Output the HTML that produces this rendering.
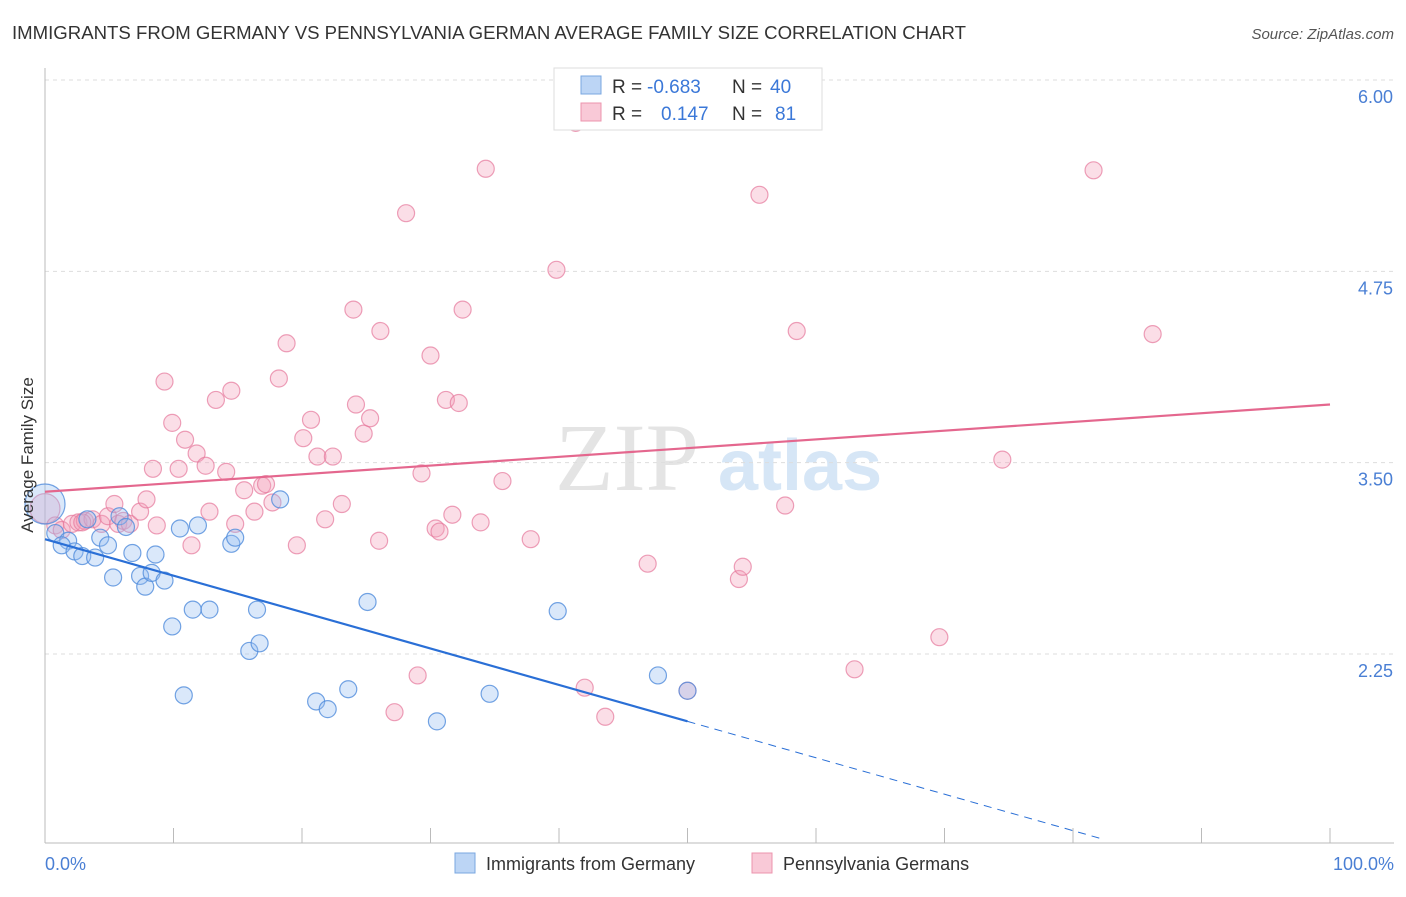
<!DOCTYPE html>
<html><head><meta charset="utf-8"><style>
body{margin:0;background:#fff;font-family:"Liberation Sans",sans-serif}
</style></head><body>
<svg width="1406" height="892" xmlns="http://www.w3.org/2000/svg" font-family="Liberation Sans, sans-serif">
<text x="12" y="39" font-size="18.6" fill="#333">IMMIGRANTS FROM GERMANY VS PENNSYLVANIA GERMAN AVERAGE FAMILY SIZE CORRELATION CHART</text>
<text x="1394" y="39" font-size="15" fill="#555" font-style="italic" text-anchor="end">Source: ZipAtlas.com</text>
<text x="555" y="490" font-size="96" fill="#e4e4e4" font-family="Liberation Serif, serif">ZIP</text>
<text x="718" y="490" font-size="72" fill="#d6e6f6" font-weight="bold">atlas</text>
<g id="grid"></g><g id="axes"></g><g id="pts"></g><g id="lines"></g>
<text x="33" y="455" font-size="17" fill="#333" transform="rotate(-90 33 455)" text-anchor="middle">Average Family Size</text>
<text x="45" y="870" font-size="18" fill="#4a7fd4">0.0%</text>
<text x="1394" y="870" font-size="18" fill="#4a7fd4" text-anchor="end">100.0%</text>
<g font-size="19">
<rect x="554" y="68" width="268" height="62" fill="#fff" stroke="#ddd"/>
<rect x="581" y="76" width="20" height="18" fill="#bcd5f5" stroke="#7aa7e0"/>
<rect x="581" y="103" width="20" height="18" fill="#f9c9d7" stroke="#ec94ae"/>
<text x="612" y="93" fill="#333">R =</text>
<text x="647" y="93" fill="#3b78d8">-0.683</text>
<text x="732" y="93" fill="#333">N =</text>
<text x="770" y="93" fill="#3b78d8">40</text>
<text x="612" y="120" fill="#333">R =</text>
<text x="661" y="120" fill="#3b78d8">0.147</text>
<text x="732" y="120" fill="#333">N =</text>
<text x="775" y="120" fill="#3b78d8">81</text>
</g>
<g>
<rect x="455" y="853" width="20" height="20" fill="#bcd5f5" stroke="#7aa7e0"/>
<text x="486" y="870" font-size="18" fill="#333">Immigrants from Germany</text>
<rect x="752" y="853" width="20" height="20" fill="#f9c9d7" stroke="#ec94ae"/>
<text x="783" y="870" font-size="18" fill="#333">Pennsylvania Germans</text>
</g>
</svg>
<script>
const yTicks=[6.00,4.75,3.50,2.25];
const blueX=[0,0.8,1.8,1.3,2.3,2.9,3.9,4.3,4.9,3.3,5.8,6.3,5.3,6.8,7.4,7.8,8.3,8.6,9.3,9.9,10.5,10.8,11.5,11.9,12.8,14.5,14.8,15.9,16.5,16.7,18.3,21.1,22.0,23.6,25.1,30.5,34.6,39.9,47.7,50.0];
const blueY=[3.23,3.04,2.99,2.96,2.92,2.89,2.88,3.01,2.96,3.13,3.15,3.08,2.75,2.91,2.76,2.69,2.78,2.90,2.73,2.43,3.07,1.98,2.54,3.09,2.54,2.97,3.01,2.27,2.54,2.32,3.26,1.94,1.89,2.02,2.59,1.81,1.99,2.53,2.11,2.01];
const pinkX=[0,0.8,1.3,2.1,2.6,3.1,3.7,4.4,4.9,5.4,5.7,6.1,6.6,7.4,7.9,8.4,8.7,9.3,9.9,10.4,10.9,11.4,11.8,12.5,12.8,13.3,14.1,14.5,14.8,15.5,16.3,16.9,17.2,17.7,18.2,18.8,19.6,20.1,20.7,21.2,21.8,22.4,23.1,24.0,24.2,24.8,25.3,26.0,26.1,27.2,28.1,29.0,29.3,30.0,30.4,30.7,31.2,31.7,32.2,32.5,33.9,34.3,35.6,37.8,39.8,41.3,42.0,43.6,46.9,54.0,54.3,55.6,57.6,58.5,63.0,69.6,74.5,81.6,86.2,50.0,2.9];
const pinkY=[3.20,3.09,3.06,3.10,3.11,3.12,3.13,3.10,3.15,3.23,3.10,3.12,3.10,3.18,3.26,3.46,3.09,4.03,3.76,3.46,3.65,2.96,3.56,3.48,3.18,3.91,3.44,3.97,3.10,3.32,3.18,3.35,3.36,3.24,4.05,4.28,2.96,3.66,3.78,3.54,3.13,3.54,3.23,4.50,3.88,3.69,3.79,2.99,4.36,1.87,5.13,2.11,3.43,4.20,3.07,3.05,3.91,3.16,3.89,4.50,3.11,5.42,3.38,3.00,4.76,5.72,2.03,1.84,2.84,2.74,2.82,5.25,3.22,4.36,2.15,2.36,3.52,5.41,4.34,2.01,3.11];
const blueFit=[3.00,1.81];
const pinkFit=[3.31,3.88];
const NS="http://www.w3.org/2000/svg";
const X=p=>45+p*12.85, Y=v=>80+(6-v)*153.07;
function mk(t,a,parent){const e=document.createElementNS(NS,t);for(const k in a)e.setAttribute(k,a[k]);document.getElementById(parent).appendChild(e);return e;}
yTicks.forEach((t,i)=>{
 const g=mk('line',{x1:45,x2:1394,y1:Y(t),y2:Y(t),stroke:'#ddd','stroke-dasharray':'4,4'},'grid');
 
 
 const tx=mk('text',{x:1393,y:Y(t)+23,'font-size':18,fill:'#4a7fd4','text-anchor':'end'},'grid');
 tx.textContent=t.toFixed(2);
 
 
});
const ax=mk('line',{x1:45,x2:45,y1:68,y2:843,stroke:'#bbb'},'axes');


const bx=mk('line',{x1:45,x2:1394,y1:843,y2:843,stroke:'#bbb'},'axes');


for(let i=0;i<=10;i++){const t=mk('line',{x1:X(i*10),x2:X(i*10),y1:828,y2:843,stroke:'#bbb'},'axes');
 
 }
pinkX.forEach((x,i)=>{const c=mk('circle',{cx:X(x),cy:Y(pinkY[i]),r:i==0?15:8.5,fill:'rgba(244,160,186,0.35)',stroke:'rgba(230,120,155,0.7)','stroke-width':1.2},'pts');
 
 });
blueX.forEach((x,i)=>{const c=mk('circle',{cx:X(x),cy:Y(blueY[i]),r:i==0?20:8.5,fill:'rgba(150,190,240,0.35)',stroke:'rgba(80,140,220,0.8)','stroke-width':1.2},'pts');
 
 });
const slope=(blueFit[1]-blueFit[0])/50;
const bl=mk('line',{x1:X(0),y1:Y(blueFit[0]),x2:X(50),y2:Y(blueFit[1]),stroke:'#2a6fd6','stroke-width':2.2},'lines');


const bd=mk('line',{x1:X(50),y1:Y(blueFit[1]),x2:X(82.4),y2:Y(blueFit[0]+slope*82.4),stroke:'#2a6fd6','stroke-width':1,'stroke-dasharray':'8,6'},'lines');


const pl=mk('line',{x1:X(0),y1:Y(pinkFit[0]),x2:X(100),y2:Y(pinkFit[1]),stroke:'#e4678e','stroke-width':2.2},'lines');


</script>
</body></html>
